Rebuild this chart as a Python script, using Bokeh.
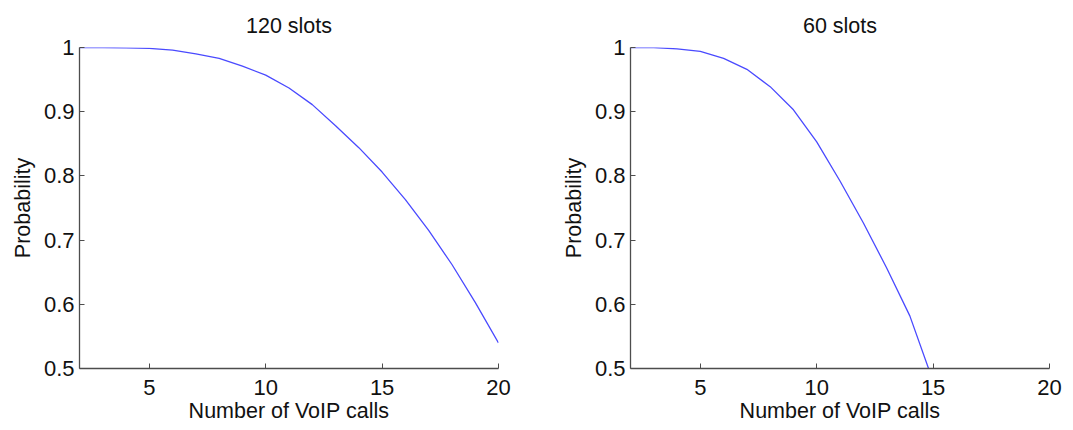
from bokeh.plotting import figure
from bokeh.layouts import row
from bokeh.embed import file_html
from bokeh.resources import INLINE
from bokeh.models import FixedTicker

# Number of simultaneous VoIP calls
calls_120 = [2, 3, 4, 5, 6, 7, 8, 9, 10, 11, 12, 13, 14, 15, 16, 17, 18, 19, 20]
prob_120 = [1.0, 1.0, 0.9995, 0.9985, 0.996, 0.990, 0.983, 0.971, 0.957, 0.937,
            0.911, 0.878, 0.844, 0.806, 0.763, 0.715, 0.662, 0.603, 0.540]

calls_60 = [2, 3, 4, 5, 6, 7, 8, 9, 10, 11, 12, 13, 14, 15]
prob_60 = [1.0, 1.0, 0.998, 0.994, 0.983, 0.966, 0.939, 0.903, 0.853, 0.792,
           0.727, 0.657, 0.582, 0.480]

x_ticks = [5, 10, 15, 20]
y_ticks = [0.5, 0.6, 0.7, 0.8, 0.9, 1.0]
y_tick_labels = ["0.5", "0.6", "0.7", "0.8", "0.9", "1"]

FONT = "Liberation Sans"
LINE_COLOR = "#4a4aff"
AXIS_COLOR = "#4d4d4d"
TEXT_COLOR = "#111111"


def panel(title, xs, ys, width, left, right):
    p = figure(width=width, height=430, x_range=(2, 20), y_range=(0.5, 1.0),
               output_backend="svg", toolbar_location=None,
               min_border_left=left, min_border_right=right,
               min_border_top=47, min_border_bottom=62)
    p.title.text = title
    p.title.align = "center"
    p.title.text_font = FONT
    p.title.text_font_size = "21.5px"
    p.title.text_font_style = "normal"
    p.title.text_color = TEXT_COLOR
    p.title.standoff = 20
    p.outline_line_color = None
    p.grid.visible = False
    p.background_fill_color = "white"
    p.border_fill_color = "white"

    p.line(xs, ys, line_color=LINE_COLOR, line_width=1.3)

    p.xaxis.ticker = FixedTicker(ticks=x_ticks)
    p.yaxis.ticker = FixedTicker(ticks=y_ticks)
    p.yaxis.major_label_overrides = {v: s for v, s in zip(y_ticks, y_tick_labels)}
    p.xaxis.axis_label = "Number of VoIP calls"
    p.yaxis.axis_label = "Probability"
    for ax in (p.xaxis[0], p.yaxis[0]):
        ax.axis_line_color = AXIS_COLOR
        ax.axis_line_width = 1.3
        ax.major_tick_line_color = AXIS_COLOR
        ax.major_tick_in = 5
        ax.major_tick_out = 0
        ax.minor_tick_line_color = None
        ax.major_label_text_font = FONT
        ax.major_label_text_font_size = "22px"
        ax.major_label_text_color = TEXT_COLOR
        ax.axis_label_text_font = FONT
        ax.axis_label_text_font_size = "21.5px"
        ax.axis_label_text_font_style = "normal"
        ax.axis_label_text_color = TEXT_COLOR
    p.xaxis.major_label_standoff = 11
    p.xaxis.axis_label_standoff = 1
    p.yaxis.major_label_standoff = 5
    p.yaxis.axis_label_standoff = 6
    return p


left_panel = panel("120 slots", calls_120, prob_120, 540, 79, 42)
right_panel = panel("60 slots", calls_60, prob_60, 533, 90, 24)

layout = row(left_panel, right_panel)
open("out.html", "w").write(file_html(layout, INLINE))
